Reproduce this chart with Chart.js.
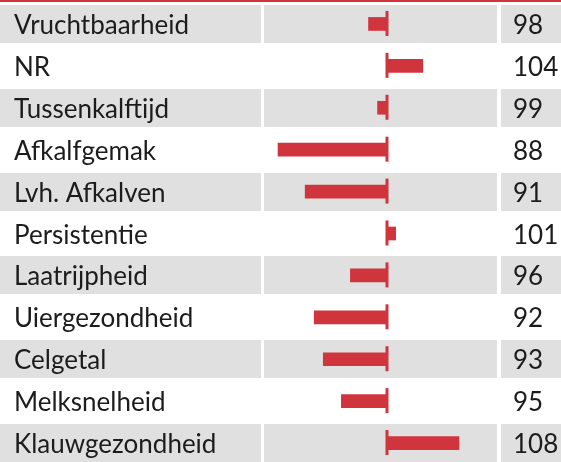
<!DOCTYPE html>
<html>
<head>
<meta charset="utf-8">
<script src="https://cdn.jsdelivr.net/npm/chart.js@4/dist/chart.umd.min.js"></script>
<style>
  html, body { margin: 0; padding: 0; background: #fff; overflow: hidden; }
  #wrap { width: 561px; height: 466px; }
</style>
</head>
<body>
<div id="wrap"><canvas id="fokwaarden" width="561" height="466"></canvas></div>
<script>
// Kenmerken en fokwaarden (100 = gemiddeld)
const kenmerken = ['Vruchtbaarheid', 'NR', 'Tussenkalftijd', 'Afkalfgemak', 'Lvh. Afkalven',
  'Persistentie', 'Laatrijpheid', 'Uiergezondheid', 'Celgetal', 'Melksnelheid', 'Klauwgezondheid'];
const fokwaarden = [98, 104, 99, 88, 91, 101, 96, 92, 93, 95, 108];
const gemiddelde = 100;
const asMin = 86.45;
const asMax = 112.2;

const ROOD = '#d0343c';
const GRIJS = '#e0e0e0';
const TEKST = '#1c1c1c';
const FONT = '26px Lato, "Open Sans", sans-serif';

// Tabel-achtergrond, tekstkolommen en middenlijn rond de staven
const tabelPlugin = {
  id: 'tabel',
  beforeDatasetsDraw(chart) {
    const { ctx, chartArea: a, scales: { y } } = chart;
    const w = chart.width;
    const half = (y.getPixelForValue(1) - y.getPixelForValue(0)) / 2;
    ctx.save();
    // rode lijn bovenaan
    ctx.fillStyle = ROOD;
    ctx.fillRect(0, 0, w, 2);
    kenmerken.forEach((k, i) => {
      if (i % 2 !== 0) return;
      const cy = y.getPixelForValue(i);
      const top = Math.round(cy - half + 2);
      const h = Math.round(half * 2 - 4);
      ctx.fillStyle = GRIJS;
      ctx.fillRect(0, top, a.left - 3, h);
      ctx.fillRect(a.left, top, a.right - a.left, h);
      ctx.fillRect(a.right + 4, top, w - a.right - 4, h);
    });
    ctx.restore();
  },
  afterDatasetsDraw(chart) {
    const { ctx, chartArea: a, scales: { x, y } } = chart;
    const mx = x.getPixelForValue(gemiddelde);
    ctx.save();
    ctx.fillStyle = ROOD;
    kenmerken.forEach((k, i) => {
      const cy = y.getPixelForValue(i);
      ctx.fillRect(Math.round(mx) - 1.5, cy - 13, 3, 25);
    });
    ctx.fillStyle = TEKST;
    ctx.font = FONT;
    ctx.textBaseline = 'alphabetic';
    ctx.textAlign = 'left';
    kenmerken.forEach((k, i) => {
      const cy = y.getPixelForValue(i);
      ctx.fillText(k, 14, cy + 10);
      ctx.fillText(String(fokwaarden[i]), a.right + 16, cy + 10);
    });
    ctx.restore();
  }
};

new Chart(document.getElementById('fokwaarden'), {
  type: 'bar',
  data: {
    labels: kenmerken,
    datasets: [{
      data: fokwaarden.map(v => [gemiddelde, v]),
      backgroundColor: ROOD,
      borderWidth: 0,
      borderSkipped: false,
      barThickness: 13
    }]
  },
  options: {
    indexAxis: 'y',
    responsive: false,
    animation: false,
    devicePixelRatio: 1,
    layout: { padding: { left: 264, right: 64, top: 3, bottom: 2 } },
    plugins: { legend: { display: false }, tooltip: { enabled: false } },
    scales: {
      x: { display: false, min: asMin, max: asMax },
      y: { display: false }
    }
  },
  plugins: [tabelPlugin]
});
</script>
</body>
</html>
